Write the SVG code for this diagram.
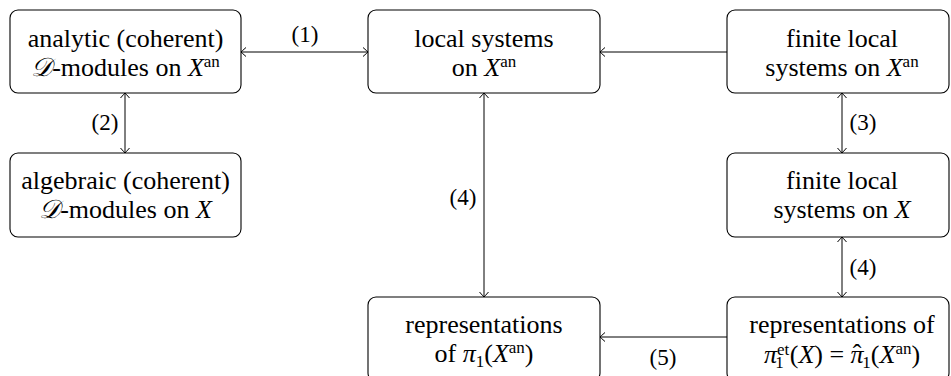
<svg xmlns="http://www.w3.org/2000/svg" width="951" height="376" viewBox="0 0 951 376" font-family="'Liberation Serif', 'DejaVu Serif', serif">
  <defs>
    <!-- open "to"-style arrow tip -->
    <marker id="tip" viewBox="-6 -6 8 12" markerWidth="8" markerHeight="12" refX="0" refY="0" orient="auto-start-reverse" markerUnits="userSpaceOnUse">
      <path d="M -5 -4.5 Q -1 -1 0 0 Q -1 1 -5 4.5" fill="none" stroke="#000" stroke-width="1"/>
    </marker>
  </defs>
  <style>
    .box { fill: #fff; stroke: #000; stroke-width: 1.1; }
    text { font-family: "Liberation Serif", "DejaVu Serif", serif; font-size: 26px; fill: #000; text-anchor: middle; }
    .lbl { font-size: 23px; }
    .it { font-style: italic; }
    .sup { font-size: 17px; font-style: normal; }
    .edge { stroke: #000; stroke-width: 1; fill: none; }
  </style>

  <g id="connectors">
    <line class="edge" x1="241" y1="52" x2="368" y2="52" marker-start="url(#tip)" marker-end="url(#tip)"/>
    <line class="edge" x1="727" y1="52" x2="600" y2="52" marker-end="url(#tip)"/>
    <line class="edge" x1="125" y1="93" x2="125" y2="153" marker-start="url(#tip)" marker-end="url(#tip)"/>
    <line class="edge" x1="484" y1="93" x2="484" y2="297" marker-start="url(#tip)" marker-end="url(#tip)"/>
    <line class="edge" x1="842" y1="93" x2="842" y2="153" marker-start="url(#tip)" marker-end="url(#tip)"/>
    <line class="edge" x1="842" y1="237" x2="842" y2="297" marker-start="url(#tip)" marker-end="url(#tip)"/>
    <line class="edge" x1="727" y1="337" x2="600" y2="337" marker-end="url(#tip)"/>
    <text class="lbl" x="305" y="42">(1)</text>
    <text class="lbl" x="105" y="130">(2)</text>
    <text class="lbl" x="863" y="130">(3)</text>
    <text class="lbl" x="463" y="205">(4)</text>
    <text class="lbl" x="863" y="275">(4)</text>
    <text class="lbl" x="663" y="365">(5)</text>
  </g>

  <g id="analytic-dmodules">
    <rect class="box" x="10" y="10" width="231" height="83" rx="8"/>
    <text x="125.5" y="47">analytic (coherent)</text>
    <text x="125.5" y="76"><tspan class="it">𝒟</tspan>-modules on <tspan class="it">X</tspan><tspan class="sup" dy="-9">an</tspan></text>
  </g>

  <g id="local-systems-an">
    <rect class="box" x="368" y="10" width="232" height="83" rx="8"/>
    <text x="484" y="47">local systems</text>
    <text x="484" y="76">on <tspan class="it">X</tspan><tspan class="sup" dy="-9">an</tspan></text>
  </g>

  <g id="finite-local-systems-an">
    <rect class="box" x="727" y="10" width="222" height="83" rx="8"/>
    <text x="842" y="47">finite local</text>
    <text x="842" y="76">systems on <tspan class="it">X</tspan><tspan class="sup" dy="-9">an</tspan></text>
  </g>

  <g id="algebraic-dmodules">
    <rect class="box" x="10" y="153" width="231" height="84" rx="8"/>
    <text x="125.5" y="189">algebraic (coherent)</text>
    <text x="125.5" y="218"><tspan class="it">𝒟</tspan>-modules on <tspan class="it">X</tspan></text>
  </g>

  <g id="finite-local-systems">
    <rect class="box" x="727" y="153" width="222" height="84" rx="8"/>
    <text x="842" y="189">finite local</text>
    <text x="842" y="218">systems on <tspan class="it">X</tspan></text>
  </g>

  <g id="representations-pi1">
    <rect class="box" x="368" y="297" width="232" height="84" rx="8"/>
    <text x="484" y="333">representations</text>
    <text x="484" y="362">of <tspan class="it">π</tspan><tspan class="sup" dy="5">1</tspan><tspan dy="-5">(</tspan><tspan class="it">X</tspan><tspan class="sup" dy="-9">an</tspan><tspan dy="9">)</tspan></text>
  </g>

  <g id="representations-etale">
    <rect class="box" x="727" y="297" width="222" height="84" rx="8"/>
    <text x="842" y="333">representations of</text>
    <text x="842" y="363"><tspan class="it">π</tspan><tspan class="sup" dy="-8">et</tspan><tspan class="sup" dx="-14" dy="13">1</tspan><tspan dx="6" dy="-5">(</tspan><tspan class="it">X</tspan>) = <tspan class="it">π</tspan><tspan dx="-11" dy="-1">ˆ</tspan><tspan class="sup" dx="1" dy="6">1</tspan><tspan dy="-5">(</tspan><tspan class="it">X</tspan><tspan class="sup" dy="-9">an</tspan><tspan dy="9">)</tspan></text>
  </g>
</svg>
